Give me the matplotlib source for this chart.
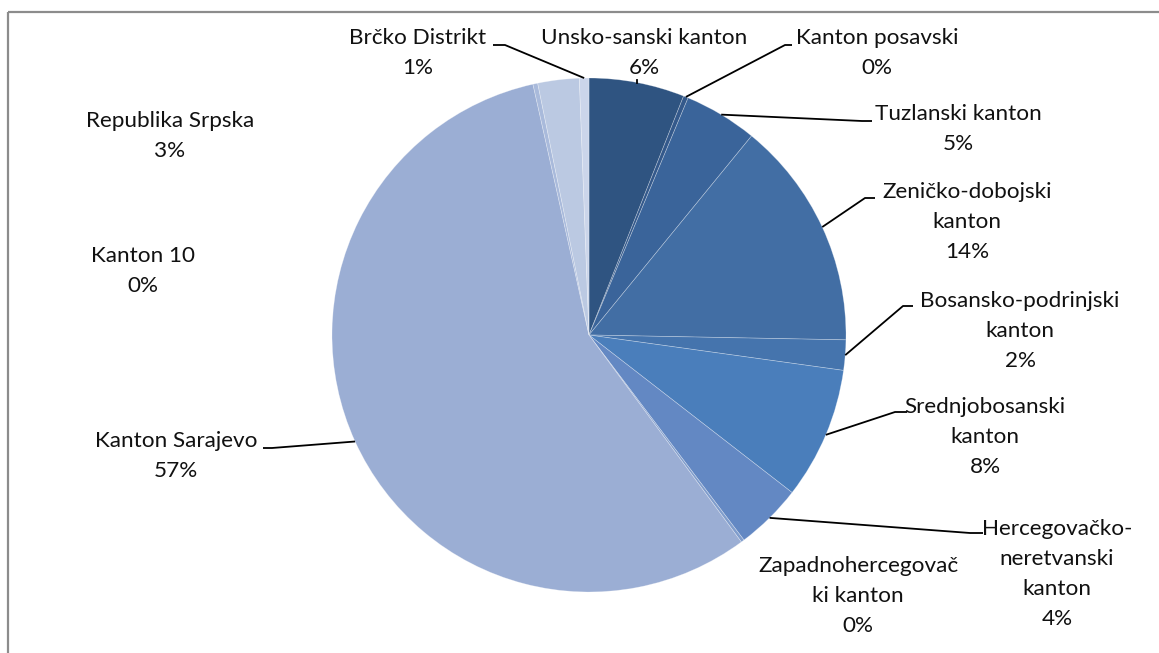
import matplotlib
matplotlib.use("Agg")
import matplotlib.pyplot as plt
from matplotlib.patches import Rectangle
import numpy as np

# share of each region, clockwise from 12 o'clock
regions = [
    "Unsko-sanski kanton",
    "Kanton posavski",
    "Tuzlanski kanton",
    "Zeničko-dobojski\nkanton",
    "Bosansko-podrinjski\nkanton",
    "Srednjobosanski\nkanton",
    "Hercegovačko-\nneretvanski\nkanton",
    "Zapadnohercegovač\nki kanton",
    "Kanton Sarajevo",
    "Kanton 10",
    "Republika Srpska",
    "Brčko Distrikt",
]
shares = [6.0, 0.3, 4.6, 14.4, 1.9, 8.3, 4.2, 0.2, 56.6, 0.3, 2.6, 0.6]
colors = ["#2f5481", "#34598b", "#3a649a", "#426ea4", "#4574ad", "#4a7ebb",
          "#6388c3", "#809dcc", "#9baed4", "#a9badb", "#bbc9e2", "#cbd5ea"]

# label layout in pixels: block centre, leader path (elbow, end) or None
label_pos = [(644, 53), (877, 53), (958, 129), (967, 222), (1020, 331), (985, 437),
             (1057, 574), (858, 596), (176, 456), (143, 271), (170, 136), (418, 53)]
leaders = [None, [(785, 45), (792, 45)], [(862, 121), (872, 121)], [(865, 198), (875, 198)],
           [(903, 306), (913, 306)], [(895, 412), (907, 412)], [(970, 533), (983, 533)],
           None, [(272, 448), (263, 448)], None, None, [(505, 45), (493, 45)]]

W, H = 1159, 653
cx, cy, r = 589, 335, 257

fig = plt.figure(figsize=(W / 100, H / 100), dpi=100)
ax = fig.add_axes([0, 0, 1, 1])
wedges, _ = ax.pie(shares, colors=colors, center=(cx, cy), radius=r,
                   startangle=-90, counterclock=True,
                   wedgeprops=dict(edgecolor=(1, 1, 1, 0.35), linewidth=0.5))
ax.set_xlim(0, W)
ax.set_ylim(H, 0)
ax.set_aspect("equal")
ax.axis("off")

for w, name, v, (tx, ty), lead in zip(wedges, regions, shares, label_pos, leaders):
    mid = np.deg2rad((w.theta1 + w.theta2) / 2)
    ax_pt = (cx + r * np.cos(mid), cy + r * np.sin(mid))
    if lead is not None:
        xs = [ax_pt[0]] + [p[0] for p in lead]
        ys = [ax_pt[1]] + [p[1] for p in lead]
        ax.plot(xs, ys, color="black", lw=1.3, solid_capstyle="butt")
    ax.text(tx, ty, f"{name}\n{round(v):d}%", ha="center", va="center",
            fontsize=16.2, family="Lato", linespacing=1.62, color="#111111")

# tiny tick for the Unsko-sanski label
w0 = wedges[0]
m0 = np.deg2rad((w0.theta1 + w0.theta2) / 2)
ax.plot([cx + r * np.cos(m0)] * 2, [cy + r * np.sin(m0) - 3, cy + r * np.sin(m0)], color="black", lw=1.3)

ax.add_patch(Rectangle((7.5, 11.5), W + 20, H + 20, fill=False,
                       edgecolor="#8c8c8c", lw=1.6, clip_on=False))

fig.savefig("out.png", dpi=100)
